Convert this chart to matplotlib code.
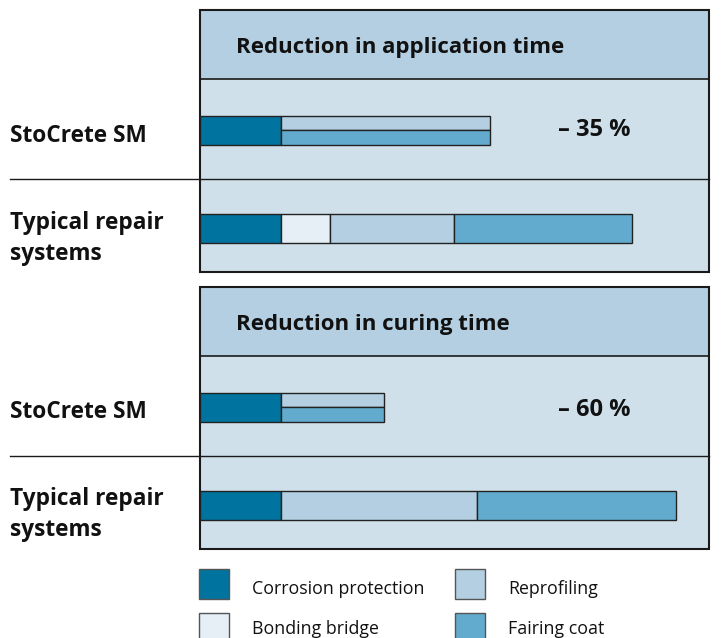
import matplotlib
matplotlib.use("Agg")
import matplotlib.pyplot as plt
from matplotlib.patches import Rectangle

plt.rcParams['font.family'] = ['Open Sans', 'DejaVu Sans']

# ---- data (time units, corrosion protection = 1) ----
segments = ["Corrosion protection", "Bonding bridge", "Reprofiling", "Fairing coat"]
colors = {"Corrosion protection": "#00739e", "Bonding bridge": "#e6eff5",
          "Reprofiling": "#b3cfe1", "Fairing coat": "#62abcf"}

panel_titles = ["Reduction in application time", "Reduction in curing time"]
row_labels = ["StoCrete SM", "Typical repair", "systems"]
reductions = ["– 35 %", "– 60 %"]

# StoCrete SM: corrosion protection, then reprofiling + fairing coat in one combined step
app_sm_corrosion = 1.0
app_sm_combined = 2.58
cure_sm_corrosion = 1.0
cure_sm_combined = 1.27

# Typical repair systems: corrosion, bonding bridge, reprofiling, fairing coat
app_typical = [1.0, 0.61, 1.53, 2.19]
cure_typical = [1.0, 0.0, 2.42, 2.46]

# ---- layout (pixels) ----
W, H = 724, 638
fig = plt.figure(figsize=(W / 100, H / 100), dpi=100)
bg = fig.add_axes([0, 0, 1, 1])
bg.set_xlim(0, W)
bg.set_ylim(H, 0)
bg.axis('off')

x0, x1 = 200, 709
unit = 81.0  # px per time unit
da = fig.add_axes([0, 0, 1, 1], sharey=bg)
da.set_xlim(-x0 / unit, (W - x0) / unit)
da.axis('off')
da.patch.set_alpha(0)

panels = [
    dict(top=10, head=79, div=179, bottom=272, title_base=52.5, pct_base=136,
         sm_y=(115.5, 145), ty_y=(213.5, 243), sm_base=141.5, ty_base=229),
    dict(top=287, head=356, div=456, bottom=549, title_base=330, pct_base=416.5,
         sm_y=(392.5, 422), ty_y=(490.5, 520), sm_base=417.5, ty_base=505),
]
sm_data = [(app_sm_corrosion, app_sm_combined), (cure_sm_corrosion, cure_sm_combined)]
ty_data = [app_typical, cure_typical]

txt = '#111111'
lw_border = 1.5
for p, title, red, (smc, smr), typ in zip(panels, panel_titles, reductions, sm_data, ty_data):
    # body and header
    bg.add_patch(Rectangle((x0, p['top']), x1 - x0, p['bottom'] - p['top'],
                           facecolor="#cfe0ea", edgecolor='none', zorder=0))
    bg.add_patch(Rectangle((x0, p['top']), x1 - x0, p['head'] - p['top'],
                           facecolor="#b3cfe1", edgecolor='none', zorder=0))
    bg.add_patch(Rectangle((x0, p['top']), x1 - x0, p['bottom'] - p['top'],
                           facecolor='none', edgecolor='#1a1a1a', lw=lw_border, zorder=5))
    bg.plot([x0, x1], [p['head'], p['head']], color='#1a1a1a', lw=1.2, zorder=5)
    bg.plot([10, x1], [p['div'], p['div']], color='#1a1a1a', lw=1.0, zorder=5)

    bg.text(236, p['title_base'], title, fontsize=16, fontweight='bold',
            va='baseline', ha='left', color=txt)

    # StoCrete SM bar
    y_a, y_b = p['sm_y']
    hgt = y_b - y_a
    ymid = (y_a + y_b) / 2
    kw = dict(edgecolor='#222222', linewidth=1.0, zorder=3)
    da.barh(ymid, smc, left=0, height=hgt, color=colors["Corrosion protection"], **kw)
    da.barh((y_a + ymid) / 2, smr, left=smc, height=hgt / 2, color=colors["Reprofiling"], **kw)
    da.barh((ymid + y_b) / 2, smr, left=smc, height=hgt / 2, color=colors["Fairing coat"], **kw)

    # Typical repair systems bar
    t_a, t_b = p['ty_y']
    left = 0.0
    for seg, v in zip(segments, typ):
        if v > 0:
            da.barh((t_a + t_b) / 2, v, left=left, height=t_b - t_a, color=colors[seg], **kw)
        left += v

    bg.text(594, p['pct_base'], red, fontsize=17, fontweight='bold', ha='center',
            va='baseline', color=txt)

    # row labels
    bg.text(10, p['sm_base'], row_labels[0], fontsize=16.3, fontweight='bold', ha='left',
            va='baseline', color=txt)
    bg.text(10, p['ty_base'], row_labels[1], fontsize=16.3, fontweight='bold', ha='left',
            va='baseline', color=txt)
    bg.text(10, p['ty_base'] + 31.5, row_labels[2], fontsize=16.3, fontweight='bold',
            ha='left', va='baseline', color=txt)

# ---- legend ----
leg_items = [("Corrosion protection", 199, 569, 593.5), ("Reprofiling", 455, 569, 593.5),
             ("Bonding bridge", 199, 613, 634), ("Fairing coat", 455, 613, 634)]
for name, lx, ly, base in leg_items:
    bg.add_patch(Rectangle((lx, ly), 30, 30, facecolor=colors[name],
                           edgecolor='#555555', lw=1.0, zorder=3))
    bg.text(lx + 53, base, name, fontsize=12.8, ha='left', va='baseline', color=txt)

fig.savefig("out.png", dpi=100)
